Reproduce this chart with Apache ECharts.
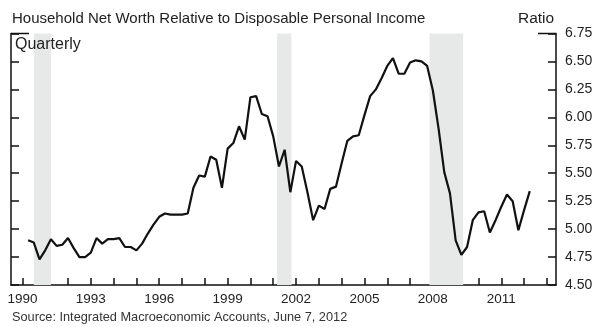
<!DOCTYPE html>
<html>
<head>
<meta charset="utf-8">
<script src="https://cdn.jsdelivr.net/npm/echarts@6/dist/echarts.min.js"></script>
<style>
html,body{margin:0;padding:0;background:#fff;}
#c{width:600px;height:327px;}
</style>
</head>
<body>
<div id="c"></div>
<script>
// Quarterly data, 1990Q1 .. 2012Q1
var startYear = 1990;
var ratio = [
  4.90, 4.88, 4.73, 4.81,
  4.91, 4.85, 4.86, 4.92,
  4.83, 4.75, 4.75, 4.79,
  4.92, 4.87, 4.91, 4.91,
  4.92, 4.84, 4.84, 4.81,
  4.87, 4.96, 5.04, 5.11,
  5.14, 5.13, 5.13, 5.13,
  5.14, 5.37, 5.48, 5.47,
  5.65, 5.62, 5.37, 5.72,
  5.77, 5.92, 5.80, 6.18,
  6.19, 6.03, 6.01, 5.83,
  5.56, 5.71, 5.33, 5.61,
  5.56, 5.33, 5.08, 5.21,
  5.18, 5.36, 5.38, 5.59,
  5.79, 5.83, 5.84, 6.02,
  6.19, 6.25, 6.35, 6.46,
  6.53, 6.39, 6.39, 6.49,
  6.51, 6.50, 6.46, 6.24,
  5.90, 5.51, 5.32, 4.90,
  4.77, 4.84, 5.08, 5.15,
  5.16, 4.97, 5.08, 5.20,
  5.31, 5.25, 4.99, 5.17,
  5.34
];
var recessions = [[1990.5, 1991.25], [2001.17, 2001.8], [2007.85, 2009.33]];
var yearTicks = [1990,1991,1992,1993,1994,1995,1996,1997,1998,1999,2000,2001,2002,2003,2004,2005,2006,2007,2008,2009,2010,2011,2012,2013];
var yearLabels = [1990,1993,1996,1999,2002,2005,2008,2011];

var title = 'Household Net Worth Relative to Disposable Personal Income';
var unitLabel = 'Ratio';
var freqLabel = 'Quarterly';
var sourceText = 'Source: Integrated Macroeconomic Accounts, June 7, 2012';

// quarter i plotted at end of quarter
var points = ratio.map(function (v, i) { return [startYear + (i + 1) / 4, v]; });

var FONT = '"Liberation Sans", Arial, Helvetica, sans-serif';
var TXT = '#222';
var chart = echarts.init(document.getElementById('c'), null, {renderer: 'canvas'});

var axisLineStyle = {color: '#111', width: 1.5};
var option = {
  animation: false,
  backgroundColor: '#fff',
  grid: {left: 11, right: 44, top: 33.5, bottom: 42},
  xAxis: {
    type: 'value', min: 1989.5, max: 2013.4,
    axisLine: {show: true, lineStyle: axisLineStyle},
    axisTick: {show: true, inside: true, length: 7, lineStyle: axisLineStyle, customValues: yearTicks},
    axisLabel: {customValues: yearLabels, color: TXT, fontFamily: FONT, fontSize: 13.5, margin: 7,
      formatter: function (v) { return String(Math.round(v)); }},
    splitLine: {show: false}
  },
  yAxis: [{
    type: 'value', position: 'right', min: 4.5, max: 6.75, interval: 0.25,
    axisLine: {show: true, lineStyle: axisLineStyle},
    axisTick: {show: true, inside: true, length: 8, lineStyle: axisLineStyle},
    axisLabel: {color: TXT, fontFamily: FONT, fontSize: 14, margin: 9,
      formatter: function (v) { return v.toFixed(2); }},
    splitLine: {show: false}
  }, {
    type: 'value', position: 'left', min: 4.5, max: 6.75, interval: 0.25,
    axisLine: {show: true, lineStyle: axisLineStyle},
    axisTick: {show: true, inside: true, length: 8, lineStyle: axisLineStyle},
    axisLabel: {show: false},
    splitLine: {show: false}
  }],
  series: [{
    type: 'line',
    data: points,
    yAxisIndex: 0,
    showSymbol: false,
    lineStyle: {color: '#111', width: 2.2},
    z: 5,
    markArea: {
      silent: true,
      itemStyle: {color: '#e7e9e9'},
      data: recessions.map(function (r) { return [{xAxis: r[0]}, {xAxis: r[1]}]; })
    }
  }],
  graphic: [
    {type: 'text', left: 12, top: 11, style: {text: title, fill: TXT, font: '15px ' + FONT}},
    {type: 'text', left: 518, top: 11, style: {text: unitLabel, fill: TXT, font: '15.5px ' + FONT}},
    {type: 'text', left: 15, top: 37, style: {text: freqLabel, fill: TXT, font: '16px ' + FONT}, z: 10},
    {type: 'text', left: 12, top: 311, style: {text: sourceText, fill: '#333', font: '12.75px ' + FONT}}
  ]
};
chart.setOption(option);

// corner stubs on the top edge of the frame
var tl = chart.convertToPixel({xAxisIndex: 0, yAxisIndex: 0}, [1989.5, 6.75]);
var tr = chart.convertToPixel({xAxisIndex: 0, yAxisIndex: 0}, [2013.4, 6.75]);
chart.setOption({graphic: option.graphic.concat([
  {type: 'line', shape: {x1: tl[0], y1: tl[1], x2: tl[0] + 18, y2: tl[1]}, style: {stroke: '#111', lineWidth: 1.5}, z: 10},
  {type: 'line', shape: {x1: tr[0] - 18, y1: tr[1], x2: tr[0], y2: tr[1]}, style: {stroke: '#111', lineWidth: 1.5}, z: 10}
])});
</script>
</body>
</html>
